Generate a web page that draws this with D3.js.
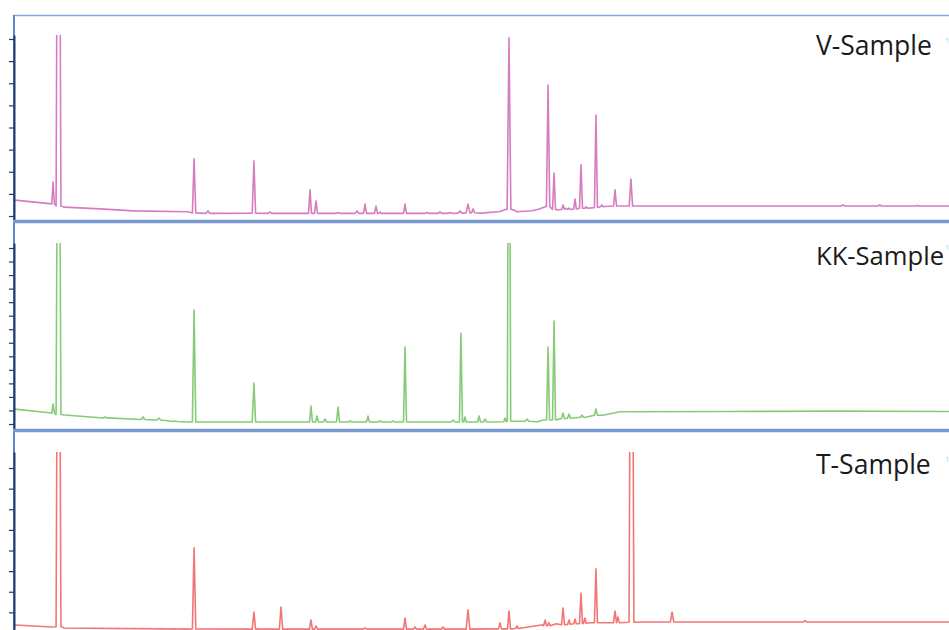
<!DOCTYPE html>
<html>
<head>
<meta charset="utf-8">
<script src="https://cdn.jsdelivr.net/npm/d3@7"></script>
<style>
  html, body { margin: 0; padding: 0; background: #ffffff; }
  svg { display: block; }
</style>
</head>
<body>
<svg id="chart" width="949" height="630"></svg>
<script>
// Sample names shown in each panel
const sampleNames = ["V-Sample", "KK-Sample", "T-Sample"];

// Retention time window (min)
const timeDomain = [0, 50];

// Y tick values per panel (detector response units)
const ticksV = [0, 1, 2, 3, 4, 5, 6, 7, 8];
const ticksKK = [0, 1, 2, 3, 4, 5, 6, 7, 8, 9, 10, 11, 12, 13];
const ticksT = [0, 1, 2, 3, 4, 5, 6, 7, 8];

// Baseline drift knots [time, response]
const baseV = [[0,0.72],[1.9,0.56],[2.7,0.4],[4.6,0.32],[6.4,0.23],[9.3,0.19],[10.0,0.13],[25.0,0.13],[26.0,0.2],[26.3,0.3],[26.7,0.28],[26.9,0.19],[27.7,0.24],[28.1,0.32],[28.4,0.42],[29.1,0.27],[29.5,0.35],[31.6,0.43],[33.3,0.45],[50,0.45]];
const baseKK = [[0,1.11],[2.0,0.81],[2.7,0.66],[5.0,0.45],[7.5,0.3],[9.4,0.15],[28.0,0.17],[28.3,0.3],[29.2,0.38],[30.5,0.48],[31.5,0.65],[32.4,0.9],[38,0.92],[44,0.95],[50,0.92]];
const baseT = [[0,0.39],[2.0,0.29],[2.7,0.24],[9.4,0.19],[25.5,0.2],[27.5,0.29],[28.3,0.4],[29.0,0.45],[30.8,0.5],[31.6,0.5],[33.6,0.53],[50,0.53]];

// Peak table [retention time, apex response, local baseline, half width]
const peaksV = [[2.09,1.54,0.55,0.07],[2.38,30,0.45,0.13],[9.63,2.58,0.14,0.09],[10.37,0.23,0.12,0.1],[12.83,2.49,0.13,0.09],[13.69,0.18,0.12,0.1],[15.83,1.18,0.12,0.08],[16.15,0.68,0.12,0.08],[17.33,0.16,0.12,0.1],[18.34,0.23,0.12,0.1],[18.77,0.54,0.12,0.08],[19.36,0.45,0.12,0.08],[19.57,0.18,0.12,0.08],[20.91,0.54,0.12,0.08],[22.09,0.16,0.12,0.1],[22.78,0.18,0.12,0.1],[23.32,0.16,0.12,0.1],[23.85,0.23,0.13,0.1],[24.28,0.54,0.14,0.1],[24.55,0.32,0.15,0.08],[26.47,8.05,0.3,0.1],[28.56,5.92,0.42,0.09],[28.88,1.94,0.3,0.08],[29.36,0.5,0.3,0.07],[29.68,0.36,0.3,0.07],[30.0,0.77,0.32,0.07],[30.32,2.31,0.35,0.08],[30.59,0.41,0.35,0.07],[31.12,4.56,0.38,0.08],[31.44,0.5,0.42,0.07],[32.14,1.18,0.45,0.08],[32.99,1.67,0.45,0.09],[44.33,0.5,0.45,0.1],[46.3,0.5,0.45,0.1],[48.3,0.48,0.45,0.1]];
const peaksKK = [[2.09,1.48,0.8,0.07],[2.38,40,0.7,0.13],[4.87,0.52,0.44,0.1],[6.9,0.52,0.33,0.1],[7.75,0.44,0.3,0.1],[8.61,0.22,0.18,0.1],[9.63,8.42,0.15,0.09],[12.83,3.03,0.15,0.09],[15.88,1.33,0.15,0.08],[16.2,0.59,0.15,0.08],[16.63,0.37,0.15,0.08],[17.33,1.26,0.15,0.08],[17.97,0.22,0.15,0.1],[18.93,0.59,0.15,0.08],[19.57,0.22,0.15,0.1],[20.27,0.22,0.15,0.1],[20.91,5.69,0.15,0.08],[23.48,0.3,0.15,0.1],[23.9,6.72,0.15,0.08],[24.12,0.52,0.15,0.07],[24.87,0.59,0.15,0.08],[25.19,0.37,0.15,0.08],[26.26,0.44,0.17,0.07],[26.47,40,0.2,0.09],[27.43,0.37,0.2,0.1],[28.56,5.69,0.3,0.08],[28.88,7.61,0.3,0.08],[29.36,0.81,0.4,0.08],[29.68,0.74,0.42,0.08],[30.37,0.66,0.5,0.08],[31.12,1.11,0.65,0.08]];
const peaksT = [[2.38,30,0.3,0.13],[9.63,4.13,0.2,0.09],[12.83,1.02,0.19,0.09],[14.28,1.26,0.19,0.09],[15.88,0.63,0.19,0.08],[16.15,0.34,0.19,0.08],[18.77,0.24,0.19,0.1],[20.91,0.73,0.19,0.08],[21.44,0.29,0.19,0.08],[21.98,0.39,0.19,0.08],[22.94,0.29,0.19,0.08],[24.28,1.12,0.19,0.1],[25.99,0.49,0.2,0.08],[26.47,1.07,0.2,0.08],[26.9,0.34,0.22,0.08],[28.4,0.63,0.35,0.08],[28.6,0.5,0.35,0.07],[29.36,1.21,0.4,0.08],[29.68,0.63,0.42,0.07],[30.0,0.68,0.45,0.07],[30.32,1.94,0.45,0.08],[30.53,0.73,0.47,0.07],[31.12,3.11,0.5,0.08],[32.14,1.07,0.5,0.08],[32.3,0.78,0.5,0.07],[33.02,30,0.52,0.13],[35.19,1.02,0.53,0.09],[42.3,0.6,0.53,0.1]];

const colors = ["#d67cc0", "#87cb78", "#f27676"];

// Panel geometry: tick 0 / top tick pixel rows, clip window, label rows and size
const panels = [
  { name: sampleNames[0], base: baseV,  peaks: peaksV,  ticks: ticksV,  y0: 216, y1: 39,  top: 35,  bottom: 219.5, labelY: 55,  labelSize: 26.5, markY: 43,  color: colors[0] },
  { name: sampleNames[1], base: baseKK, peaks: peaksKK, ticks: ticksKK, y0: 424, y1: 248, top: 243, bottom: 429,   labelY: 265, labelSize: 25.6, markY: 250, color: colors[1] },
  { name: sampleNames[2], base: baseT,  peaks: peaksT,  ticks: ticksT,  y0: 633, y1: 468, top: 452, bottom: 630,   labelY: 474, labelSize: 26.5, markY: 462, color: colors[2] }
];

const svg = d3.select("#chart");
const W = 949, H = 630;
const x = d3.scaleLinear().domain(timeDomain).range([14, W]);

// Frame: top border and left border
svg.append("line").attr("x1", 13).attr("x2", W).attr("y1", 15.5).attr("y2", 15.5)
  .attr("stroke", "#8aa7dd").attr("stroke-width", 1.6);
svg.append("line").attr("x1", 14).attr("x2", 14).attr("y1", 15).attr("y2", H)
  .attr("stroke", "#5f86d0").attr("stroke-width", 2);

panels.forEach((p, i) => {
  const maxTick = p.ticks[p.ticks.length - 1];
  const y = d3.scaleLinear().domain([0, maxTick]).range([p.y0, p.y1]);

  // Trace points: baseline knots plus each peak's start, apex and end
  const pts = p.base.map(d => [d[0], d[1]]);
  p.peaks.forEach(([t, h, b, w]) => {
    pts.push([t - w, b], [t, h], [t + w, b]);
  });
  pts.sort((a, b) => a[0] - b[0]);

  const clipId = "clip" + i;
  svg.append("clipPath").attr("id", clipId)
    .append("rect").attr("x", 15).attr("y", p.top).attr("width", W - 15).attr("height", p.bottom - p.top);

  const line = d3.line().x(d => x(d[0])).y(d => y(d[1]));
  svg.append("path")
    .datum(pts)
    .attr("clip-path", `url(#${clipId})`)
    .attr("fill", "none")
    .attr("stroke", p.color)
    .attr("stroke-width", 1.6)
    .attr("stroke-linejoin", "round")
    .attr("d", line);

  // Left axis spanning the visible window
  const yAxisScale = y.copy().domain([y.invert(p.bottom), y.invert(p.top)]).range([p.bottom, p.top]);
  const g = svg.append("g").attr("transform", "translate(14,0)")
    .call(d3.axisLeft(yAxisScale).tickValues(p.ticks).tickSize(5).tickSizeOuter(0).tickFormat(""));
  g.select(".domain").attr("stroke", "#22396a").attr("stroke-width", 2);
  g.selectAll(".tick line").attr("stroke", "#22396a").attr("stroke-width", 1.2);

  // Sample name
  svg.append("text")
    .attr("x", 816).attr("y", p.labelY)
    .attr("font-family", "'Open Sans', 'Noto Sans', sans-serif")
    .attr("font-size", p.labelSize)
    .attr("fill", "#1a1a1a")
    .text(p.name);
  svg.append("text")
    .attr("x", 945.5).attr("y", p.markY)
    .attr("font-family", "'Open Sans', sans-serif")
    .attr("font-size", 7)
    .attr("fill", "#c4c4c4")
    .text("1");
});

// Panel separators
[221.5, 430.5].forEach(yy => {
  svg.append("line").attr("x1", 13).attr("x2", W).attr("y1", yy).attr("y2", yy)
    .attr("stroke", "#7698d3").attr("stroke-width", 3.5);
});
</script>
</body>
</html>
